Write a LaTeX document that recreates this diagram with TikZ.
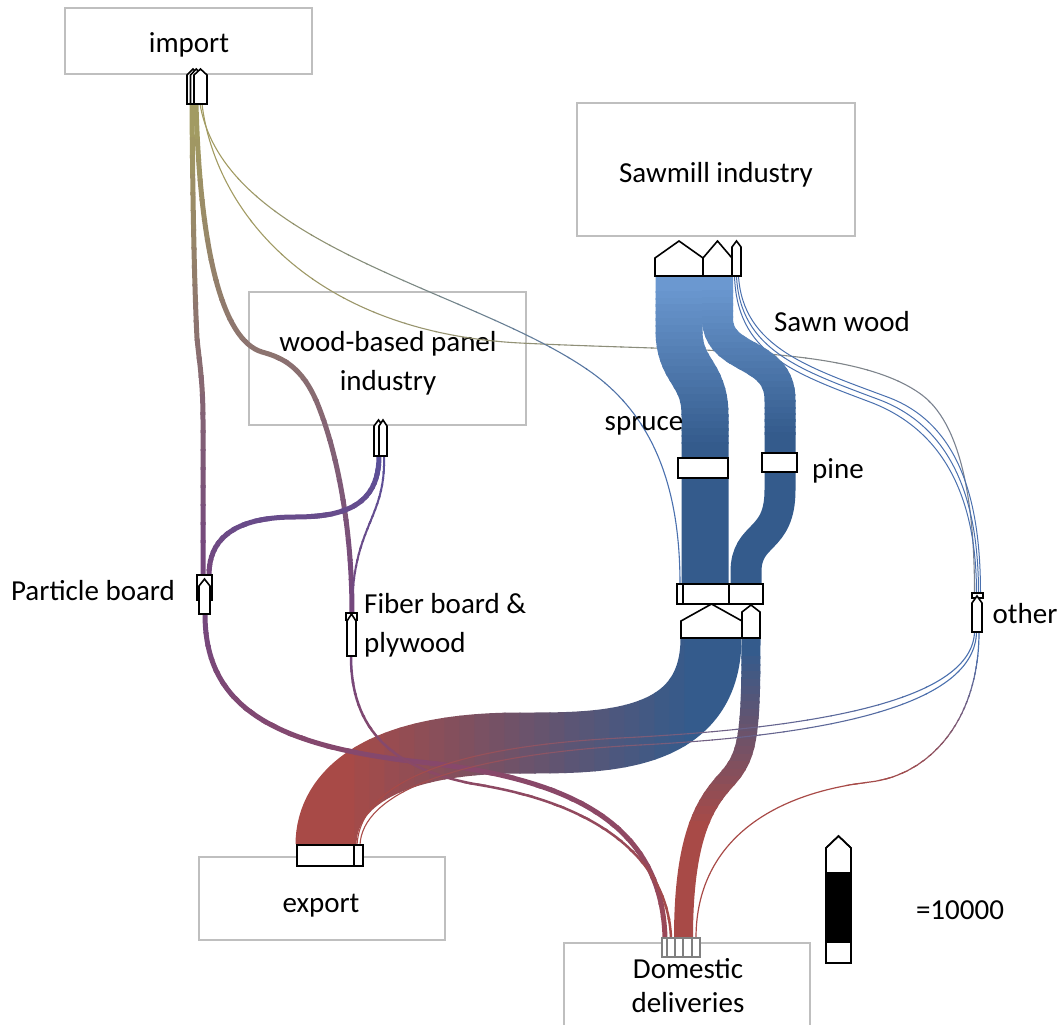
\documentclass[tikz,border=0pt]{standalone}
\usepackage{fontspec}
\setmainfont{Carlito}
\definecolor{boxgray}{HTML}{BFBFBF}
\definecolor{cellgray}{HTML}{808080}
\definecolor{impol}{HTML}{A29B62}
\definecolor{skyb}{HTML}{6B98D0}
\definecolor{deepb}{HTML}{345B8C}
\definecolor{rust}{HTML}{A84A47}
\definecolor{plum}{HTML}{75487D}
\definecolor{redplum}{HTML}{9A4858}
\definecolor{panelb}{HTML}{5A509A}
\definecolor{thinb}{HTML}{4A70AE}
\definecolor{slate}{HTML}{7A8290}

% stroke a path with a colour ramp running down the page
\newcommand\vramp[6]{%
  \foreach \k in {0,...,23}{%
    \pgfmathsetmacro\ya{\k==0 ? -60 : #4+(#5-#4)/24*\k-0.7}%
    \pgfmathsetmacro\yb{\k==23 ? 1100 : #4+(#5-#4)/24*(\k+1)+0.7}%
    \pgfmathtruncatemacro\pc{100-100/23*\k}%
    \begin{scope}
      \clip (-60,\ya) rectangle (1130,\yb);
      \draw[line width=#1, color=#2!\pc!#3] #6;
    \end{scope}
  }%
}
% stroke a path with a colour ramp running left to right
\newcommand\hramp[6]{%
  \foreach \k in {0,...,23}{%
    \pgfmathsetmacro\xa{\k==0 ? -60 : #4+(#5-#4)/24*\k-0.7}%
    \pgfmathsetmacro\xb{\k==23 ? 1130 : #4+(#5-#4)/24*(\k+1)+0.7}%
    \pgfmathtruncatemacro\pc{100-100/23*\k}%
    \begin{scope}
      \clip (\xa,-60) rectangle (\xb,1100);
      \draw[line width=#1, color=#2!\pc!#3] #6;
    \end{scope}
  }%
}
% upward pointing port: x left, x right, y tip, y shoulder, y bottom
\newcommand\porthouse[5]{%
  \filldraw[port] (#1,#5) -- (#1,#4) -- ({(#1+#2)/2},#3) -- (#2,#4) -- (#2,#5) -- cycle;}

\begin{document}
\begin{tikzpicture}[x=1pt,y=-1pt,
  box/.style={draw=boxgray, line width=1.5pt, inner sep=0pt},
  lbl/.style={font=\fontsize{29}{36}\selectfont, inner sep=0pt, text height=0.68em, text depth=0.2em, yshift=-7pt},
  lbl2/.style={inner sep=0pt, align=center, font=\fontsize{29}{#1}\selectfont},
  port/.style={draw=black, fill=white, line width=1.6pt, line join=miter},
  cell/.style={draw=cellgray, fill=white, line width=1.3pt}]
\useasboundingbox (0,0) rectangle (1061,1025);

% process boxes
\node[box, minimum width=247pt, minimum height=66pt] (imp) at (188.5,41) {};
\node[box, minimum width=278pt, minimum height=133pt] (saw) at (716,169.5) {};
\node[box, minimum width=277pt, minimum height=133pt] (panel) at (387.5,358.5) {};
\node[box, minimum width=246pt, minimum height=83pt] (exp) at (322,898.5) {};
\node[box, minimum width=246pt, minimum height=84pt] (dom) at (687,985) {};
\node[lbl] (imptxt) at (189,43) {import};
\node[lbl] (sawtxt) at (716,173) {Sawmill industry};
\node[lbl2=39] (paneltxt) at (388,363) {wood-based panel\\industry};
\node[lbl] (exptxt) at (321,903) {export};
\node[lbl2=34] (domtxt) at (688,986) {Domestic\\deliveries};

% port anchor points
\coordinate (iA) at (192,104);
\coordinate (iB) at (196,104);
\coordinate (iC) at (200,104);
\coordinate (iD) at (202,104);
\coordinate (pbA) at (203,575);
\coordinate (pbB) at (209,575);
\coordinate (pbO) at (205,614);
\coordinate (wpA) at (379,456);
\coordinate (wpB) at (384,456);
\coordinate (fbI) at (352,613);
\coordinate (fbO) at (351,656);
\coordinate (sawS) at (679,276);
\coordinate (sawP) at (717.5,276);
\coordinate (sawO1) at (734.5,276);
\coordinate (sawO2) at (736.5,276);
\coordinate (sawO3) at (738.5,276);
\coordinate (jImp) at (680,584);
\coordinate (jS) at (705,584);
\coordinate (jP) at (746,584);
\coordinate (jE) at (711,638);
\coordinate (jD) at (751,638);
\coordinate (oI1) at (974.5,593);
\coordinate (oI2) at (976.5,593);
\coordinate (oI3) at (978.5,593);
\coordinate (oI4) at (980.5,593);
\coordinate (oO1) at (974.5,632);
\coordinate (oO2) at (976.5,632);
\coordinate (oO3) at (979,632);
\coordinate (exA) at (326,845);
\coordinate (exB1) at (357,845);
\coordinate (exB2) at (360,845);
\coordinate (dA) at (665,938);
\coordinate (dB) at (671,938);
\coordinate (dC) at (683.5,938);
\coordinate (dD) at (696,938);

% thin streams
\hramp{1.1pt}{impol}{slate}{220}{960}{(iD) .. controls (215,210) and (310,332) .. (520,343) .. controls (700,352) and (855,345) .. (922,395) .. controls (966,428) and (974.5,520) .. (oI1)}
\hramp{1.1pt}{impol}{thinb}{220}{660}{(iC) .. controls (225,250) and (480,290) .. (595,375) .. controls (655,420) and (680,490) .. (jImp)}
\draw[thinb, line width=1pt] (sawO1) .. controls (737,352) and (790,372) .. (870,402) .. controls (952,433) and (976.5,510) .. (oI2);
\draw[thinb, line width=1pt] (sawO2) .. controls (740,350) and (800,370) .. (880,400) .. controls (958,430) and (978.5,510) .. (oI3);
\draw[thinb, line width=1pt] (sawO3) .. controls (743,348) and (810,368) .. (890,398) .. controls (964,427) and (980.5,510) .. (oI4);

% import and panel streams
\vramp{5pt}{impol}{plum}{120}{560}{(iA) .. controls (193,250) and (196,320) .. (197,338) .. controls (199,360) and (203,380) .. (203,420) -- (pbA)}
\vramp{5pt}{impol}{plum}{120}{600}{(iB) .. controls (200,250) and (222,340) .. (262,352) .. controls (280,357) and (302,365) .. (318,405) .. controls (338,455) and (352,530) .. (fbI)}
\vramp{5pt}{panelb}{plum}{460}{575}{(wpA) .. controls (379,505) and (345,517) .. (295,517) .. controls (240,517) and (209,535) .. (pbB)}
\vramp{2pt}{panelb}{plum}{460}{610}{(wpB) .. controls (386,520) and (352,525) .. (fbI)}

% sawn wood streams
\vramp{47pt}{skyb}{deepb}{285}{450}{(sawS) -- (679,330) .. controls (679,372) and (705,372) .. (705,415) -- (jS)}
\vramp{31pt}{skyb}{deepb}{285}{440}{(sawP) -- (717.5,318) .. controls (717.5,362) and (780,350) .. (780,400) -- (780,490) .. controls (780,543) and (746,532) .. (746,572) -- (jP)}

% to export and domestic deliveries
\hramp{61pt}{rust}{deepb}{340}{700}{(jE) .. controls (711,745) and (600,743) .. (520,743) .. controls (380,743) and (326,790) .. (exA)}
\vramp{5pt}{plum}{redplum}{620}{930}{(pbO) .. controls (205,700) and (262,745) .. (420,762) .. controls (565,778) and (662,820) .. (dA)}
\vramp{2.5pt}{plum}{rust}{660}{930}{(fbO) .. controls (351,730) and (392,770) .. (480,785) .. controls (600,805) and (668,860) .. (dB)}
\vramp{19pt}{deepb}{rust}{650}{830}{(jD) .. controls (751,735) and (748,755) .. (728,778) .. controls (708,800) and (683.5,830) .. (dC)}
\hramp{1.1pt}{rust}{thinb}{380}{950}{(oO1) .. controls (972,700) and (820,728) .. (620,738) .. controls (430,748) and (360,790) .. (exB1)}
\hramp{1.1pt}{rust}{thinb}{380}{950}{(oO2) .. controls (975,705) and (830,735) .. (640,745) .. controls (450,755) and (362,795) .. (exB2)}
\vramp{1.2pt}{thinb}{rust}{650}{790}{(oO3) .. controls (979,720) and (930,775) .. (870,782) .. controls (760,795) and (696,850) .. (dD)}

% ports
\porthouse{187}{199}{69}{75}{104}
\porthouse{190.5}{202}{69}{75}{104}
\porthouse{194}{207}{69}{75}{104}
\porthouse{655}{703}{241}{258}{276}
\porthouse{703}{732}{241}{258}{276}
\porthouse{732}{741}{241}{247}{276}
\porthouse{374}{383}{420}{426}{456}
\porthouse{379}{387}{420}{426}{456}
\draw[port] (197,575) rectangle (212,600);
\porthouse{199}{210}{579}{586}{614}
\draw[port] (346,613) rectangle (357,620);
\porthouse{347}{356}{614}{621}{656}
\draw[port] (972,593) rectangle (983,598);
\porthouse{972}{982}{596}{603}{632}
\draw[port] (677,584) rectangle (683,604);
\draw[port] (683,584) rectangle (729,604);
\draw[port] (729,584) rectangle (763,604);
\porthouse{681}{742}{604}{621}{638}
\porthouse{742}{760}{605}{612}{638}
\draw[port] (678,458) rectangle (728,478);
\draw[port] (762,453) rectangle (797,472);
\draw[port] (297,845) rectangle (354,866);
\draw[port] (354,845) rectangle (363,866);
\foreach \a/\b in {662/667,667/675,675/683,683/692,692/700}
  \draw[cell] (\a,938) rectangle (\b,957);

% scale marker
\porthouse{826}{851}{836}{848}{963}
\fill[black] (826,872) rectangle (851,943);
\draw[port, fill=none] (826,963) -- (826,848) -- (838.5,836) -- (851,848) -- (851,963) -- cycle;
\node[lbl] (scaleval) at (960,910) {=10000};

% stream labels
\node[lbl] (sawnlbl) at (842,322) {Sawn wood};
\node[lbl] (sprucelbl) at (644,421) {spruce};
\node[lbl] (pinelbl) at (838,469) {pine};
\node[lbl] (pblbl) at (93,591) {Particle board};
\node[lbl2=39, anchor=west, align=left] (fblbl) at (364,625) {Fiber board \&\\plywood};
\node[lbl] (otherlbl) at (1025,614) {other};
\end{tikzpicture}
\end{document}
